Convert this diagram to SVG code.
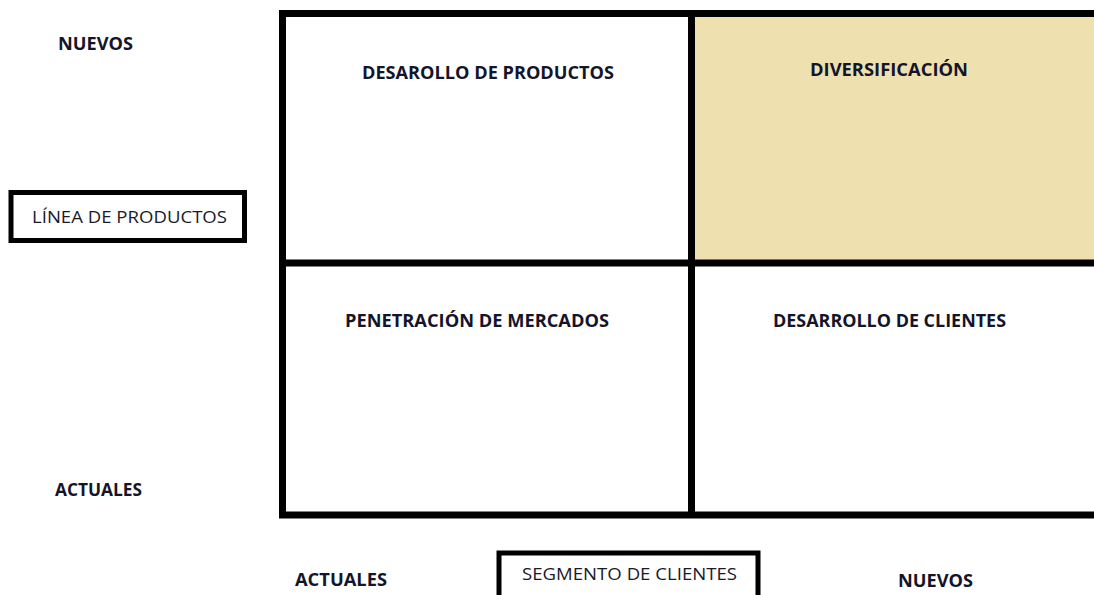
<svg xmlns="http://www.w3.org/2000/svg" width="1094" height="595" viewBox="0 0 1094 595">
<style>
.b{font-family:"Open Sans","Liberation Sans",sans-serif;font-weight:bold;font-size:18px;fill:#14142a}
.r{font-family:"Open Sans","Liberation Sans",sans-serif;font-size:17px;fill:#1a1a2a}
.cell{stroke:#000;stroke-width:7;fill:none}
.box{stroke:#000;stroke-width:5;fill:#fff}
</style>
<rect width="1094" height="595" fill="#fff"/>
<g id="quad-diversificacion">
<rect x="691" y="13" width="410" height="250" fill="#EEE1AF"/>
<text class="b" x="810" y="76" textLength="158" lengthAdjust="spacingAndGlyphs">DIVERSIFICACIÓN</text>
</g>
<g id="grid">
<rect class="cell" x="282.5" y="13.5" width="820" height="501.5"/>
<line class="cell" x1="691.5" y1="13" x2="691.5" y2="515"/>
<line class="cell" x1="282" y1="263" x2="1100" y2="263"/>
</g>
<g id="quad-desarollo-productos">
<text class="b" x="362" y="79" textLength="252" lengthAdjust="spacingAndGlyphs">DESAROLLO DE PRODUCTOS</text>
</g>
<g id="quad-penetracion">
<text class="b" x="345" y="327" textLength="264" lengthAdjust="spacingAndGlyphs">PENETRACIÓN DE MERCADOS</text>
</g>
<g id="quad-desarrollo-clientes">
<text class="b" x="773" y="327" textLength="233" lengthAdjust="spacingAndGlyphs">DESARROLLO DE CLIENTES</text>
</g>
<g id="label-nuevos-y">
<text class="b" x="58" y="50" textLength="75" lengthAdjust="spacingAndGlyphs">NUEVOS</text>
</g>
<g id="label-actuales-y">
<text class="b" x="55" y="496" textLength="87" lengthAdjust="spacingAndGlyphs">ACTUALES</text>
</g>
<g id="linea-productos">
<rect class="box" x="11" y="192.5" width="233.5" height="48"/>
<text class="r" x="32" y="223" textLength="195" lengthAdjust="spacingAndGlyphs">LÍNEA DE PRODUCTOS</text>
</g>
<g id="label-actuales-x">
<text class="b" x="295" y="586" textLength="92" lengthAdjust="spacingAndGlyphs">ACTUALES</text>
</g>
<g id="segmento-clientes">
<rect class="box" x="499" y="553" width="259" height="60"/>
<text class="r" x="522" y="580" textLength="215" lengthAdjust="spacingAndGlyphs">SEGMENTO DE CLIENTES</text>
</g>
<g id="label-nuevos-x">
<text class="b" x="898" y="587" textLength="75" lengthAdjust="spacingAndGlyphs">NUEVOS</text>
</g>
<g id="connectors"></g>
</svg>
